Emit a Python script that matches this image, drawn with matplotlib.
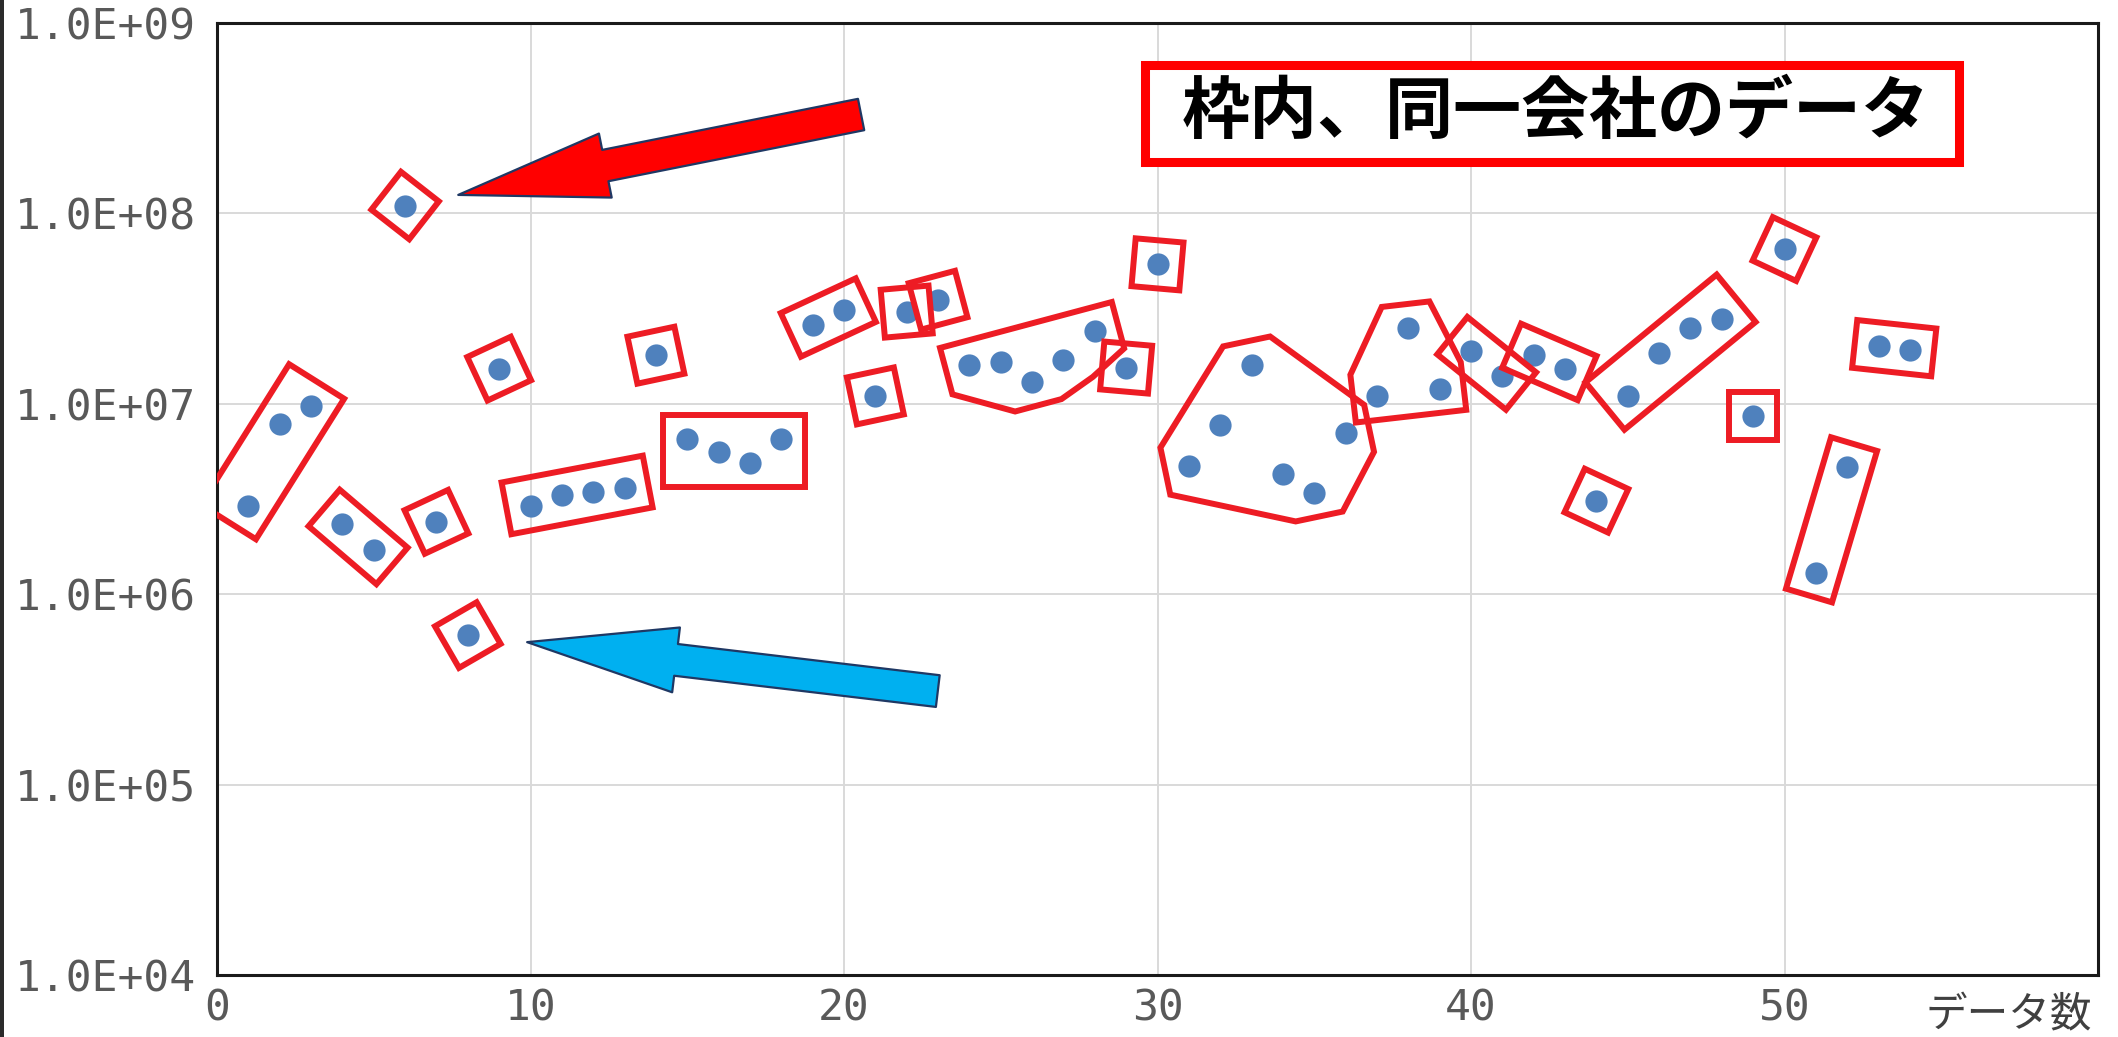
import numpy as np
import matplotlib
matplotlib.use("Agg")
import matplotlib.pyplot as plt
from matplotlib.patches import Polygon, Rectangle
from matplotlib.ticker import FixedLocator, FuncFormatter, NullLocator

# data (x = data index, y = value, log scale)
counts = list(range(1, 55))
values = [2.9e6, 7.8e6, 9.7e6, 2.35e6, 1.7e6, 1.1e8, 2.4e6, 6.1e5, 1.53e7, 2.9e6,
          3.3e6, 3.45e6, 3.6e6, 1.8e7, 6.5e6, 5.6e6, 4.9e6, 6.5e6, 2.6e7, 3.1e7,
          1.1e7, 3.05e7, 3.5e7, 1.6e7, 1.65e7, 1.3e7, 1.7e7, 2.4e7, 1.55e7, 5.4e7,
          4.7e6, 7.7e6, 1.6e7, 4.3e6, 3.4e6, 7.0e6, 1.1e7, 2.5e7, 1.2e7, 1.9e7,
          1.4e7, 1.8e7, 1.53e7, 3.1e6, 1.1e7, 1.85e7, 2.5e7, 2.8e7, 8.6e6, 6.5e7,
          1.3e6, 4.65e6, 2.0e7, 1.92e7]
# consecutive points belonging to the same company
group_sizes = [3, 2, 1, 1, 1, 1, 4, 1, 4, 2, 1, 1, 1, 5, 1, 1, 6, 3, 2, 2, 1, 4, 1, 1, 2, 2]
# tilt (deg) of the frame drawn round single points
single_tilt = {6: -38, 7: 25, 8: 30, 9: 25, 14: 12, 21: 12, 22: 5, 23: 15,
               29: -5, 30: -5, 44: -25, 49: 0, 50: -25}
y_ticks = [1e4, 1e5, 1e6, 1e7, 1e8, 1e9]
x_ticks = [0, 10, 20, 30, 40, 50]
legend_text = "枠内、同一会社のデータ"
x_title = "データ数"

W, H = 2118, 1037
fig = plt.figure(figsize=(W / 100, H / 100), dpi=100)
fig.patch.set_facecolor("white")
ax = fig.add_axes([217 / W, (H - 975) / H, 1881 / W, 952 / H])

ax.set_yscale("log")
ax.set_xlim(0, 60)
ax.set_ylim(1e4, 1e9)

ax.yaxis.set_major_locator(FixedLocator(y_ticks))
ax.yaxis.set_minor_locator(NullLocator())
ax.yaxis.set_major_formatter(FuncFormatter(lambda v, p: "%.1E" % v))
ax.set_xticks(x_ticks)
ax.tick_params(length=0, labelsize=31, labelcolor="#595959")
ax.tick_params(axis="y", pad=15)
ax.tick_params(axis="x", pad=9)
for lab in ax.get_xticklabels() + ax.get_yticklabels():
    lab.set_family(["DejaVu Sans Mono"])

ax.grid(True, color="#d9d9d9", lw=1.4)
ax.set_axisbelow(True)
for sp in ax.spines.values():
    sp.set_color("#1a1a1a")
    sp.set_linewidth(2.2)

ax.plot(counts, values, "o", color="#4f81bd", ms=16, mec="none", zorder=3)


def hull(pts):
    pts = sorted(set(map(tuple, np.round(pts, 3))))

    def cross(o, a, b):
        return (a[0] - o[0]) * (b[1] - o[1]) - (a[1] - o[1]) * (b[0] - o[0])

    lower, upper = [], []
    for p in pts:
        while len(lower) >= 2 and cross(lower[-2], lower[-1], p) <= 0:
            lower.pop()
        lower.append(p)
    for p in reversed(pts):
        while len(upper) >= 2 and cross(upper[-2], upper[-1], p) <= 0:
            upper.pop()
        upper.append(p)
    return np.array(lower[:-1] + upper[:-1])


# company frames, built in pixel space round each group of points
pad = 24
pix = ax.transData.transform(np.column_stack([counts, values]))
start = 0
for size in group_sizes:
    p = pix[start:start + size]
    if size > 1:
        d = p[-1] - p[0]
        ang = np.arctan2(d[1], d[0])
    else:
        ang = np.radians(single_tilt.get(start + 1, 0))
    u = np.array([np.cos(ang), np.sin(ang)])
    v = np.array([-np.sin(ang), np.cos(ang)])
    pu = (p - p[0]) @ u
    pv = (p - p[0]) @ v
    if np.ptp(pv) < 30:
        # nearly in a line: plain tilted rectangle
        frame = [p[0] + a * u + b * v
                 for a, b in [(pu.min() - pad, pv.min() - pad), (pu.max() + pad, pv.min() - pad),
                              (pu.max() + pad, pv.max() + pad), (pu.min() - pad, pv.max() + pad)]]
        frame = np.array(frame)
    else:
        corners = [q + a * pad * u + b * pad * v for q in p for a in (-1, 1) for b in (-1, 1)]
        frame = hull(np.array(corners))
    poly = ax.transData.inverted().transform(frame)
    ax.add_patch(Polygon(poly, closed=True, fill=False, ec="#ed1c24", lw=4.3,
                         joinstyle="miter", zorder=4))
    start += size

# arrows pointing at the highest and lowest values
ax.annotate("", xy=(counts[5], values[5]), xytext=(456, 91), textcoords="offset pixels",
            arrowprops=dict(arrowstyle="simple,head_length=108,head_width=47,tail_width=23",
                            mutation_scale=1, shrinkA=0, shrinkB=39,
                            fc="#ff0000", ec="#1f3864", lw=1.6), zorder=5)
ax.annotate("", xy=(counts[7], values[7]), xytext=(470, -56), textcoords="offset pixels",
            arrowprops=dict(arrowstyle="simple,head_length=108,head_width=47,tail_width=23",
                            mutation_scale=1, shrinkA=0, shrinkB=43,
                            fc="#00b0f0", ec="#1f3864", lw=1.6), zorder=5)

# legend box
ax.add_patch(Rectangle((0.4933, 0.8536), 0.4328, 0.1019, transform=ax.transAxes,
                       fill=True, fc="white", ec="#ff0000", lw=6.5, zorder=6,
                       clip_on=False))
ax.text(0.7115, 0.905, legend_text, transform=ax.transAxes, ha="center", va="center",
        fontsize=49, fontweight="bold", family=["Noto Sans CJK JP", "DejaVu Sans"],
        color="black", zorder=7)

ax.text(0.9527, -0.043, x_title, transform=ax.transAxes, ha="center", va="center",
        fontsize=30, family=["Noto Sans CJK JP", "DejaVu Sans"], color="#404040")

fig.add_artist(Rectangle((0, 0), 4 / W, 1, transform=fig.transFigure,
                         color="#2b2b2b", lw=0))

fig.savefig("out.png", dpi=100)
